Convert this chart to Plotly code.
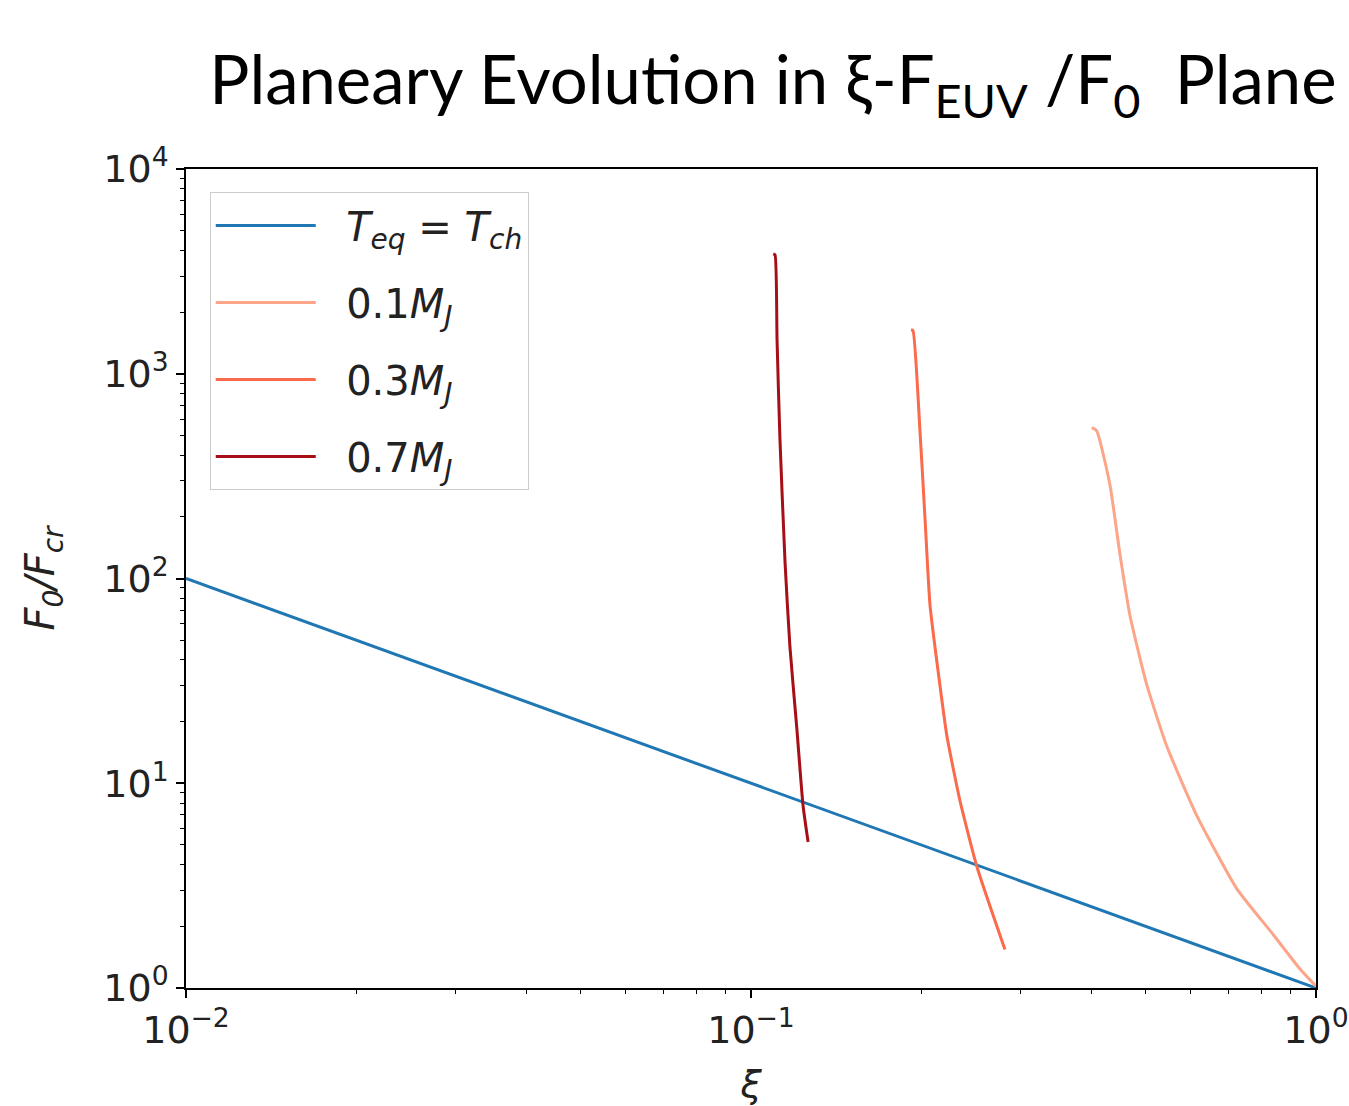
import plotly.graph_objects as go

# Data
teq_xi = [0.01, 1.0]
teq_f = [100.0, 1.0]

m01_xi = [0.4009, 0.4091, 0.4318, 0.4497, 0.4685, 0.5017, 0.5442, 0.6149, 0.7238, 0.8403, 0.937, 1.0]
m01_f = [545, 526, 287, 132, 66.0, 30.3, 15.2, 6.97, 3.06, 1.82, 1.238, 1.02]

m03_xi = [0.1920, 0.1935, 0.1991, 0.2032, 0.2074, 0.2143, 0.2222, 0.2344, 0.2512, 0.2815]
m03_f = [1640, 1626, 525, 197.5, 74.2, 35.5, 17.0, 8.19, 3.90, 1.54]

m07_xi = [0.1095, 0.1103, 0.1112, 0.1125, 0.1149, 0.1172, 0.1206, 0.1236, 0.1262]
m07_f = [3850, 3802, 1462, 486, 119, 46.3, 18.2, 7.83, 5.16]

x_tickvals = [0.01, 0.1, 1]
x_ticktext = ["10<sup>−2</sup>", "10<sup>−1</sup>", "10<sup>0</sup>"]
y_tickvals = [1, 10, 100, 1000, 10000]
y_ticktext = ["10<sup>0</sup>", "10<sup>1</sup>", "10<sup>2</sup>", "10<sup>3</sup>", "10<sup>4</sup>"]

names = ["<i>T<sub>eq</sub></i> = <i>T<sub>ch</sub></i>",
         "0.1<i>M<sub>J</sub></i>", "0.3<i>M<sub>J</sub></i>", "0.7<i>M<sub>J</sub></i>"]
colors = ["#1f77b4", "#fca588", "#fb6a4a", "#a50f15"]

fig = go.Figure()
series = [(teq_xi, teq_f), (m01_xi, m01_f), (m03_xi, m03_f), (m07_xi, m07_f)]
for i, ((xs, ys), nm, c) in enumerate(zip(series, names, colors)):
    fig.add_trace(go.Scatter(x=xs, y=ys, mode="lines", name="&nbsp;&nbsp;" + nm,
                             line=dict(color=c, width=3, shape="spline", smoothing=0.5),
                             legendgroup=f"g{i}"))

axis_common = dict(
    type="log", showgrid=False, zeroline=False, automargin=False,
    showline=True, linecolor="black", linewidth=1.5, mirror=True,
    ticks="outside", ticklen=8, tickwidth=1.5, tickcolor="black",
    tickfont=dict(family="DejaVu Sans", size=38, color="#222"),
    minor=dict(ticks="outside", ticklen=4, tickwidth=1, tickcolor="black", dtick="D1", showgrid=False),
)

fig.update_layout(
    width=1349, height=1106,
    margin=dict(l=186, r=33, t=169, b=118),
    paper_bgcolor="white", plot_bgcolor="white",
    title=dict(text="Planeary Evolution in ξ-F<sub>EUV</sub> /F<sub>0</sub>  Plane",
               x=0.573, xanchor="center", yref="container", y=0.927, yanchor="middle",
               font=dict(family="Lato", size=67, color="black")),
    xaxis=dict(range=[-2, 0], tickvals=x_tickvals, ticktext=x_ticktext,
               title=dict(text="<i>ξ</i>", font=dict(family="DejaVu Sans", size=38, color="#222"), standoff=22),
               **axis_common),
    yaxis=dict(range=[0, 4], tickvals=y_tickvals, ticktext=y_ticktext,
               title=dict(text="<i>F<sub>0</sub>/F<sub>cr</sub></i>", font=dict(family="DejaVu Sans", size=40, color="#222"), standoff=36),
               **axis_common),
    legend=dict(x=0.021, y=0.972, xanchor="left", yanchor="top",
                bgcolor="white", bordercolor="#cccccc", borderwidth=1,
                font=dict(family="DejaVu Sans", size=40, color="#222"),
                tracegroupgap=22, itemwidth=100),
    showlegend=True,
)

fig.write_html("out.html")
